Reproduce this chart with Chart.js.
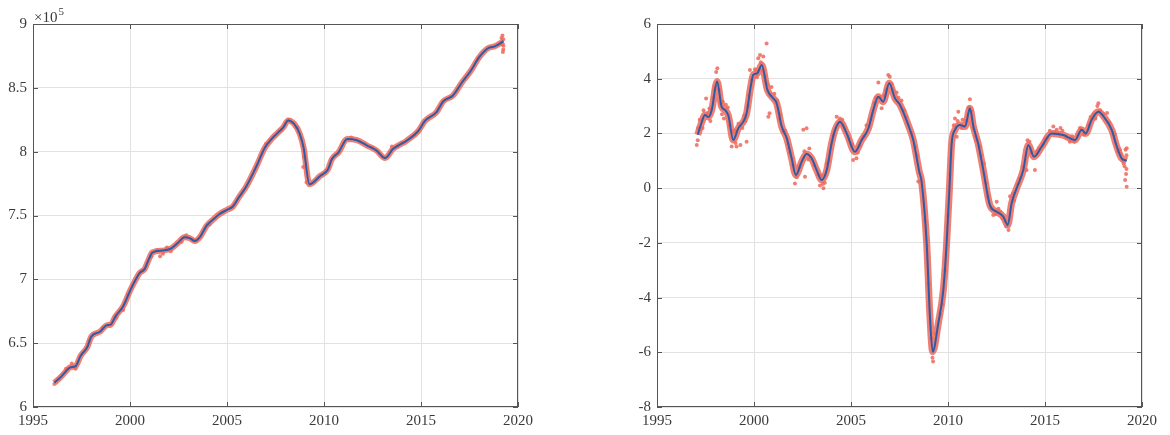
<!DOCTYPE html>
<html>
<head>
<meta charset="utf-8">
<script src="https://cdn.jsdelivr.net/npm/chart.js@4"></script>
<style>
  html, body { margin: 0; padding: 0; background: #fff; }
  #wrap { position: relative; width: 1170px; height: 435px; }
  .panel { position: absolute; top: 0; width: 585px; height: 435px; }
</style>
</head>
<body>
<div id="wrap">
  <div class="panel" style="left:0"><canvas id="left" width="585" height="435"></canvas></div>
  <div class="panel" style="left:585px"><canvas id="right" width="585" height="435"></canvas></div>
</div>
<script>
// ---- data ----
// left panel: level (x 1e5)
const leftYears = [1996.1, 1996.4, 1996.7, 1996.9, 1997.2, 1997.45, 1997.8, 1998.0, 1998.45, 1998.8,
  1999.0, 1999.25, 1999.65, 2000.0, 2000.3, 2000.5, 2000.75, 2000.95, 2001.15, 2001.7,
  2002.15, 2002.5, 2002.8, 2003.05, 2003.35, 2003.6, 2003.95, 2004.3, 2004.6, 2005.0,
  2005.3, 2005.6, 2006.0, 2006.5, 2006.95, 2007.3, 2007.6, 2007.9, 2008.15, 2008.45,
  2008.75, 2008.95, 2009.25, 2009.8, 2010.2, 2010.4, 2010.75, 2011.2, 2011.7, 2012.2,
  2012.7, 2013.15, 2013.55, 2014.25, 2014.85, 2015.2, 2015.8, 2016.15, 2016.65, 2017.1,
  2017.55, 2018.0, 2018.45, 2018.8, 2019.25];
const leftValues = [619000, 623000, 628000, 631000, 632000, 640000, 647000, 655000, 659000, 664000,
  664500, 671000, 679000, 691000, 700000, 705000, 708000, 715000, 721000, 722500,
  724500, 729000, 733000, 732500, 730000, 733000, 742000, 747000, 751000, 754500,
  757000, 764000, 773000, 788000, 803000, 810000, 814500, 819000, 824500, 822000,
  814000, 803000, 774500, 781000, 786000, 794000, 799500, 810000, 809000, 805000,
  801000, 795000, 802000, 808500, 816000, 824000, 831000, 839500, 844000, 854000,
  863000, 874000, 881000, 882500, 886500];
const leftDotYears = [1996.1, 1996.3, 1996.7, 1997.0, 1997.2, 1997.9, 1998.6, 1999.3, 1999.65, 1999.9,
  2000.6, 2001.1, 2001.4, 2001.55, 2001.7, 2001.9, 2002.1, 2002.66, 2002.9, 2003.3,
  2004.1, 2007.0, 2007.8, 2008.2, 2008.6, 2008.93, 2008.96, 2009.1, 2011.4, 2012.5,
  2013.5, 2013.8, 2014.0, 2019.2, 2019.24, 2019.24, 2019.22, 2019.18, 2019.15, 2019.25];
const leftDotValues = [618000, 622000, 630000, 634000, 630000, 652000, 662000, 670000, 676000, 688000,
  707000, 718000, 723000, 718000, 720000, 725000, 722000, 729500, 734500, 731000,
  743000, 806000, 817000, 825000, 819000, 788000, 796000, 776000, 811000, 803000,
  804000, 804000, 807000, 891000, 888000, 880000, 878000, 884000, 889000, 883000];

// right panel: growth rate
const rightYears = [1997.1, 1997.3, 1997.47, 1997.65, 1997.82, 1998.1, 1998.33, 1998.5, 1998.68, 1998.93,
  1999.19, 1999.45, 1999.62, 1999.83, 1999.96, 2000.17, 2000.4, 2000.69, 2001.0, 2001.17,
  2001.43, 2001.69, 2001.94, 2002.16, 2002.46, 2002.71, 2002.97, 2003.23, 2003.49, 2003.75,
  2004.0, 2004.18, 2004.43, 2004.78, 2005.2, 2005.55, 2005.9, 2006.15, 2006.41, 2006.66,
  2006.97, 2007.27, 2007.53, 2007.95, 2008.21, 2008.52, 2008.64, 2008.9, 2009.07, 2009.21,
  2009.5, 2009.76, 2009.93, 2010.07, 2010.19, 2010.36, 2010.62, 2010.88, 2011.13, 2011.31,
  2011.57, 2011.82, 2012.16, 2012.51, 2012.85, 2013.08, 2013.28, 2013.54, 2013.88, 2014.14,
  2014.43, 2014.83, 2015.34, 2015.94, 2016.55, 2016.89, 2017.1, 2017.4, 2017.75, 2018.09,
  2018.44, 2018.7, 2018.95, 2019.21];
const rightValues = [1.95, 2.4, 2.67, 2.6, 2.86, 3.9, 2.98, 2.86, 2.65, 1.76,
  2.19, 2.43, 2.74, 3.71, 4.14, 4.2, 4.5, 3.59, 3.28, 3.1,
  2.25, 1.82, 1.09, 0.48, 0.97, 1.25, 1.09, 0.66, 0.3, 0.66,
  1.64, 2.13, 2.43, 2.0, 1.33, 1.76, 2.19, 2.86, 3.34, 3.16,
  3.83, 3.28, 3.04, 2.31, 1.76, 0.6, 0.24, -2.0, -4.7, -5.98,
  -4.94, -3.72, -2.0, -0.07, 1.64, 2.13, 2.31, 2.25, 2.92, 2.25,
  1.58, 0.66, -0.62, -0.86, -1.04, -1.35, -0.55, 0.0, 0.66, 1.58,
  1.15, 1.52, 2.0, 1.94, 1.76, 2.13, 2.0, 2.49, 2.79, 2.55,
  2.13, 1.52, 1.09, 1.0];
const rightDotYears = [1997.05, 1997.12, 1997.1, 1997.53, 1997.4, 1997.7, 1997.95, 1998.05, 1998.11, 1998.2,
  1998.4, 1998.45, 1998.85, 1998.9, 1999.1, 1999.3, 1999.62, 1999.5, 1999.79, 1999.88,
  2000.05, 2000.22, 2000.31, 2000.48, 2000.55, 2000.65, 2000.74, 2000.8, 2000.9, 2001.3,
  2001.5, 2001.8, 2002.11, 2002.3, 2002.54, 2002.63, 2002.71, 2002.85, 2003.4, 2003.58,
  2003.75, 2003.65, 2004.26, 2004.43, 2004.6, 2005.11, 2005.28, 2005.45, 2005.8, 2006.3,
  2006.41, 2006.58, 2006.92, 2007.0, 2007.15, 2007.45, 2007.75, 2008.1, 2008.47, 2008.8,
  2009.0, 2009.15, 2009.2, 2009.23, 2009.35, 2009.6, 2009.7, 2009.85, 2010.0, 2010.1,
  2010.36, 2010.45, 2010.53, 2010.75, 2011.13, 2011.05, 2011.31, 2011.45, 2011.65, 2011.95,
  2012.33, 2012.51, 2012.7, 2013.12, 2013.2, 2013.4, 2013.85, 2014.05, 2014.2, 2014.48,
  2014.6, 2015.0, 2015.43, 2015.6, 2015.8, 2016.28, 2016.7, 2017.25, 2017.6, 2017.75,
  2017.7, 2018.2, 2018.6, 2018.85, 2019.1, 2019.13, 2019.21, 2019.18, 2019.21, 2019.15,
  1997.2, 1997.35, 1997.6, 1997.75, 1997.9, 1998.0, 1998.25, 1998.35, 1998.55, 1998.65,
  1998.75, 1999.0, 1999.05, 1999.2, 1999.4, 1999.55, 1999.7, 1999.75, 2000.1, 2000.15,
  2000.35, 2000.45, 2000.6, 2000.7, 2000.85, 2001.05, 2001.2, 2001.35, 2001.6, 2001.75,
  2001.85, 2002.0, 2002.2, 2002.4, 2002.6, 2002.8, 2003.1, 2003.3, 2003.5, 2003.55,
  2003.85, 2004.1, 2004.35, 2004.55, 2004.7, 2004.9, 2005.05, 2005.35, 2005.65, 2006.0,
  2006.2, 2006.5, 2006.7, 2006.8, 2007.1, 2007.35, 2007.6, 2007.85, 2008.3, 2008.4,
  2010.3, 2010.5, 2010.7, 2010.95, 2011.2, 2011.4, 2011.7, 2011.85, 2012.05, 2012.25,
  2012.45, 2012.6, 2012.8, 2012.95, 2013.0, 2013.35, 2013.6, 2013.7, 2014.1, 2014.3,
  2014.55, 2014.7, 2014.9, 2015.1, 2015.25, 2015.5, 2015.7, 2015.9, 2016.1, 2016.4,
  2016.5, 2016.8, 2017.0, 2017.35, 2017.5, 2017.85, 2018.0, 2018.3, 2018.5, 2018.75,
  2018.9, 2019.0, 2019.05, 2019.2, 2019.2];
const rightDotValues = [1.58, 2.2, 1.75, 3.28, 2.85, 2.9, 3.6, 4.25, 4.38, 3.6,
  3.15, 2.55, 1.52, 2.05, 1.52, 1.58, 1.7, 2.65, 4.32, 3.95,
  4.35, 4.75, 4.87, 4.81, 4.1, 5.29, 2.61, 2.74, 3.7, 2.55,
  2.05, 1.45, 0.17, 0.75, 2.13, 0.42, 2.19, 1.45, 0.1, 0.0,
  0.9, 0.2, 2.61, 2.55, 2.3, 1.03, 1.09, 1.55, 2.3, 3.3,
  3.86, 2.92, 4.14, 4.07, 3.6, 3.3, 2.85, 2.0, 0.24, -1.2,
  -3.5, -5.5, -6.2, -6.34, -5.3, -4.6, -4.25, -3.0, -1.0, 0.5,
  2.55, 1.88, 2.79, 2.5, 3.25, 2.95, 2.19, 1.75, 1.52, 0.2,
  -0.98, -0.5, -0.85, -1.53, -0.3, -0.45, 0.78, 0.66, 1.7, 0.66,
  1.35, 1.8, 2.25, 2.13, 2.2, 1.7, 1.95, 2.3, 2.55, 3.1,
  3.0, 2.75, 1.95, 1.4, 0.8, 0.3, 0.05, 0.52, 1.46, 1.4,
  2.5, 2.2, 2.75, 2.45, 3.3, 3.7, 3.1, 2.7, 3.05, 2.95,
  2.3, 2.1, 1.65, 2.35, 2.2, 2.45, 3.0, 3.4, 4.3, 4.05,
  4.6, 4.3, 3.9, 3.8, 3.4, 3.45, 3.2, 2.7, 2.1, 1.6,
  1.3, 0.85, 0.4, 0.85, 1.35, 1.05, 0.85, 0.5, 0.45, 0.15,
  1.0, 1.95, 2.35, 2.5, 2.2, 1.8, 1.6, 1.3, 1.9, 2.5,
  3.1, 3.3, 3.4, 3.6, 3.8, 3.5, 3.2, 2.6, 1.5, 1.2,
  2.3, 2.45, 2.2, 2.45, 2.8, 1.9, 1.2, 0.9, -0.3, -0.75,
  -0.95, -0.75, -1.1, -1.2, -1.4, -0.2, 0.15, 0.35, 1.75, 1.3,
  1.25, 1.45, 1.6, 1.85, 2.1, 2.05, 2.0, 2.1, 1.85, 1.9,
  1.7, 2.2, 1.95, 2.6, 2.7, 2.85, 2.7, 2.4, 2.0, 1.35,
  1.25, 1.0, 0.9, 1.2, 0.7];

const xTicks = [1995, 2000, 2005, 2010, 2015, 2020];

const FONT = "'Liberation Serif', 'Times New Roman', serif";
const TEXT = '#3a3a3a';
const AXIS = '#555555';
const GRID = '#e2e2e2';
const BLUE = '#2d5ba6';
const RED = 'rgba(238, 108, 94, 0.88)';

const pts = (xs, ys) => xs.map((x, i) => ({ x: x, y: ys[i] }));

// box around the axes with inward tick marks, plus exponent label
const boxPlugin = {
  id: 'box',
  afterDraw(chart, args, opts) {
    const { ctx, chartArea: a, scales: { x, y } } = chart;
    ctx.save();
    ctx.strokeStyle = AXIS;
    ctx.lineWidth = 1;
    ctx.strokeRect(a.left + 0.5, a.top + 0.5, a.right - a.left - 1, a.bottom - a.top - 1);
    ctx.beginPath();
    x.ticks.forEach(t => {
      const px = Math.round(x.getPixelForValue(t.value)) + 0.5;
      ctx.moveTo(px, a.bottom); ctx.lineTo(px, a.bottom - 5);
      ctx.moveTo(px, a.top); ctx.lineTo(px, a.top + 5);
    });
    y.ticks.forEach(t => {
      const py = Math.round(y.getPixelForValue(t.value)) + 0.5;
      ctx.moveTo(a.left, py); ctx.lineTo(a.left + 5, py);
      ctx.moveTo(a.right, py); ctx.lineTo(a.right - 5, py);
    });
    ctx.stroke();
    if (opts.exponent) {
      ctx.fillStyle = TEXT;
      ctx.textBaseline = 'alphabetic';
      ctx.font = '15px ' + FONT;
      ctx.fillText('\u00d710', a.left + 1, a.top - 2);
      const w = ctx.measureText('\u00d710').width;
      ctx.font = '11px ' + FONT;
      ctx.fillText(String(opts.exponent), a.left + 2 + w, a.top - 9);
    }
    ctx.restore();
  }
};

function makeChart(id, cfg) {
  return new Chart(document.getElementById(id), {
    type: 'line',
    data: {
      datasets: [
        { data: pts(cfg.years, cfg.values), borderColor: BLUE, borderWidth: 2, pointRadius: 0,
          cubicInterpolationMode: 'monotone', order: 1 },
        { type: 'scatter', data: pts(cfg.dotYears, cfg.dotValues), backgroundColor: RED,
          borderWidth: 0, pointRadius: 2, order: 2 },
        { data: pts(cfg.years, cfg.values), borderColor: RED, borderWidth: cfg.band, pointRadius: 0,
          cubicInterpolationMode: 'monotone', order: 3 }
      ]
    },
    options: {
      responsive: false,
      animation: false,
      layout: { padding: cfg.padding },
      plugins: { legend: { display: false }, tooltip: { enabled: false }, box: { exponent: cfg.exponent } },
      scales: {
        x: {
          type: 'linear', min: 1995, max: 2020,
          afterBuildTicks: s => { s.ticks = xTicks.map(v => ({ value: v })); },
          grid: { color: GRID, drawTicks: false },
          border: { display: false },
          ticks: { color: TEXT, font: { family: FONT, size: 15 }, padding: 5, maxRotation: 0,
            callback: v => String(v) },
          afterFit: s => { s.height = 28; }
        },
        y: {
          min: cfg.yMin, max: cfg.yMax,
          ticks: { stepSize: cfg.yStep, color: TEXT, font: { family: FONT, size: 15 }, padding: 6,
            callback: cfg.yLabel },
          grid: { color: GRID, drawTicks: false },
          border: { display: false },
          afterFit: s => { s.width = cfg.yWidth; }
        }
      }
    },
    plugins: [boxPlugin]
  });
}

makeChart('left', {
  years: leftYears, values: leftValues, dotYears: leftDotYears, dotValues: leftDotValues,
  band: 6, yMin: 600000, yMax: 900000, yStep: 50000, yWidth: 33, exponent: 5,
  yLabel: v => String(+(v / 100000).toFixed(1)),
  padding: { top: 24, right: 67, left: 0, bottom: 0 }
});

makeChart('right', {
  years: rightYears, values: rightValues, dotYears: rightDotYears, dotValues: rightDotValues,
  band: 7, yMin: -8, yMax: 6, yStep: 2, yWidth: 72, exponent: null,
  yLabel: v => String(v),
  padding: { top: 24, right: 28, left: 0, bottom: 0 }
});
</script>
</body>
</html>
